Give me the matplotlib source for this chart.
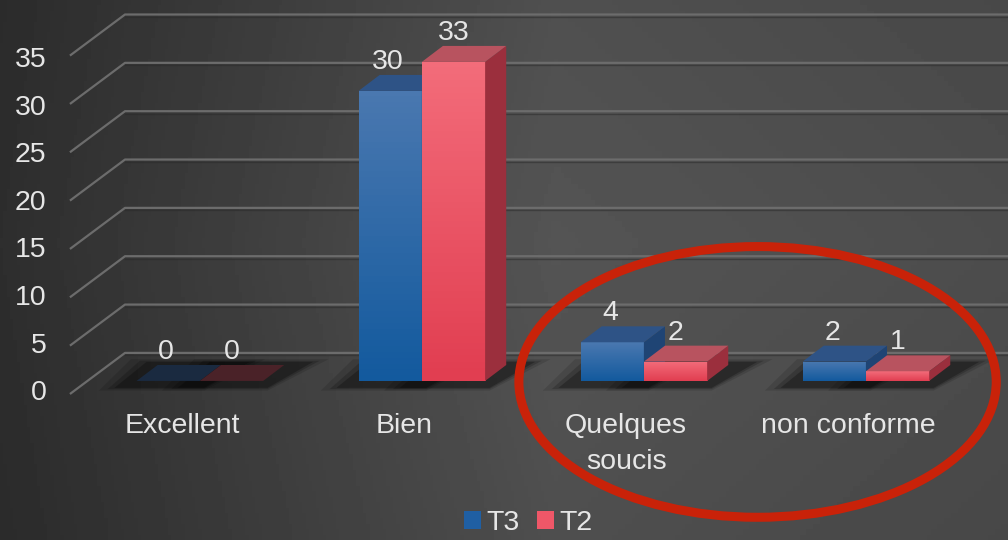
import numpy as np
import matplotlib.pyplot as plt
from matplotlib.patches import Polygon, Rectangle, Ellipse, Patch
from matplotlib.colors import LinearSegmentedColormap

plt.rcParams['font.family'] = ['Liberation Sans', 'DejaVu Sans']

# data
categories = ["Excellent", "Bien", "Quelques\nsoucis", "non conforme"]
t3 = [0, 30, 4, 2]
t2 = [0, 33, 2, 1]
yticks = [0, 5, 10, 15, 20, 25, 30, 35]

# pseudo 3d geometry (data units)
bw = 0.285          # bar width
dx, dy = 0.095, 1.65  # depth offset of bars
wall_dx, wall_dy = 0.248, 4.25   # depth offset of gridlines (front -> back)
front_y = -1.35
left_x = -0.585
fs = 20.5

fig = plt.figure(figsize=(10.08, 5.4), dpi=100)
ax = fig.add_axes([0, 0, 1, 1])
ax.set_xlim(-0.9, 3.64)
ax.set_ylim(-16.45, 39.4)
ax.axis("off")

# background gradient
xs = np.linspace(0, 1, 300)
row = np.interp(xs, [0, 0.55, 1], [0.18, 0.33, 0.30])
ys = np.linspace(0, 1, 100)[:, None]
bg = row[None, :] * (1 - 0.12 * np.abs(ys - 0.55))
ax.imshow(bg, extent=(-0.9, 3.64, -16.45, 39.4), aspect="auto", cmap="gray",
          vmin=0, vmax=1, zorder=0, origin="lower")

# gridlines
for v in yticks:
    yb = v + front_y + wall_dy
    ax.plot([left_x, left_x + wall_dx, 3.64], [v + front_y, yb, yb],
            color="#6c6c6c", lw=1.6, zorder=1, solid_capstyle="butt")
    ax.plot([left_x + wall_dx, 3.64], [yb - 0.25, yb - 0.25],
            color="#2a2a2a", lw=1.0, alpha=0.5, zorder=1)
    ax.text(-0.69, v * 0.983 - 1.25, str(v), ha="right", va="center",
            fontsize=fs, color="#e6e6e6", zorder=5)

blue = dict(front=("#4a78b0", "#135a9e"), top="#2e5386", side="#1f4474",
            zero="#1a2a40")
red = dict(front=("#f36c7a", "#e13e51"), top="#b8535f", side="#9b2f3d",
           zero="#4a2228")


def draw_bar(x0, h, c, z):
    # shadow
    for k, a in zip([0.10, 0.06, 0.03], [0.12, 0.18, 0.25]):
        ax.add_patch(Polygon([(x0 - 0.07 - k, -0.6 - k * 4), (x0 + bw + 0.02, -0.6 - k * 4),
                              (x0 + bw + dx + 0.1 + k, dy + 0.2 + k * 4),
                              (x0 + dx - 0.02 - k, dy + 0.2 + k * 4)],
                             closed=True, fc="black", ec="none", alpha=a, zorder=2))
    if h == 0:
        ax.add_patch(Polygon([(x0, 0), (x0 + bw, 0), (x0 + bw + dx, dy), (x0 + dx, dy)],
                             closed=True, fc=c["zero"], ec="none", zorder=z))
        return
    # front face with gradient
    cmap = LinearSegmentedColormap.from_list("g", [c["front"][1], c["front"][0]])
    rect = Rectangle((x0, 0), bw, h, fc="none", ec="none")
    ax.add_patch(rect)
    im = ax.imshow(np.linspace(0, 1, 50)[:, None], extent=(x0, x0 + bw, 0, h),
                   aspect="auto", cmap=cmap, origin="lower", zorder=z)
    im.set_clip_path(rect)
    ax.add_patch(Polygon([(x0 + bw, 0), (x0 + bw + dx, dy), (x0 + bw + dx, h + dy), (x0 + bw, h)],
                         closed=True, fc=c["side"], ec="none", zorder=z))
    ax.add_patch(Polygon([(x0, h), (x0 + bw, h), (x0 + bw + dx, h + dy), (x0 + dx, h + dy)],
                         closed=True, fc=c["top"], ec="none", zorder=z))


for i in range(len(categories)):
    xb = i - bw
    xr = i
    draw_bar(xb, t3[i], blue, 3)
    draw_bar(xr, t2[i], red, 4)
    ax.text(xb + bw / 2 - 0.01, t3[i] + dy + 1.35, str(t3[i]), ha="center", va="center",
            fontsize=fs, color="#e6e6e6", zorder=6)
    ax.text(xr + bw / 2, t2[i] + dy + 1.35, str(t2[i]), ha="center", va="center",
            fontsize=fs, color="#e6e6e6", zorder=6)
    ax.text(i - 0.08, -3.35, categories[i], ha="center", va="top", fontsize=fs,
            color="#e6e6e6", linespacing=1.5, zorder=6)

# red annotation ellipse
ax.add_patch(Ellipse((2.512, -0.1), 2.15, 28.0, fill=False, ec="#c92209", lw=6.5, zorder=7))

handles = [Patch(fc="#1f5fa3"), Patch(fc="#ef5768")]
leg = ax.legend(handles, ["T3", "T2"], loc="lower center", bbox_to_anchor=(0.524, -0.04),
                ncol=2, frameon=False, fontsize=fs, handlelength=0.6, handleheight=0.6,
                handletextpad=0.2, columnspacing=0.6, labelcolor="#e6e6e6")

fig.savefig("out.png", dpi=100)
